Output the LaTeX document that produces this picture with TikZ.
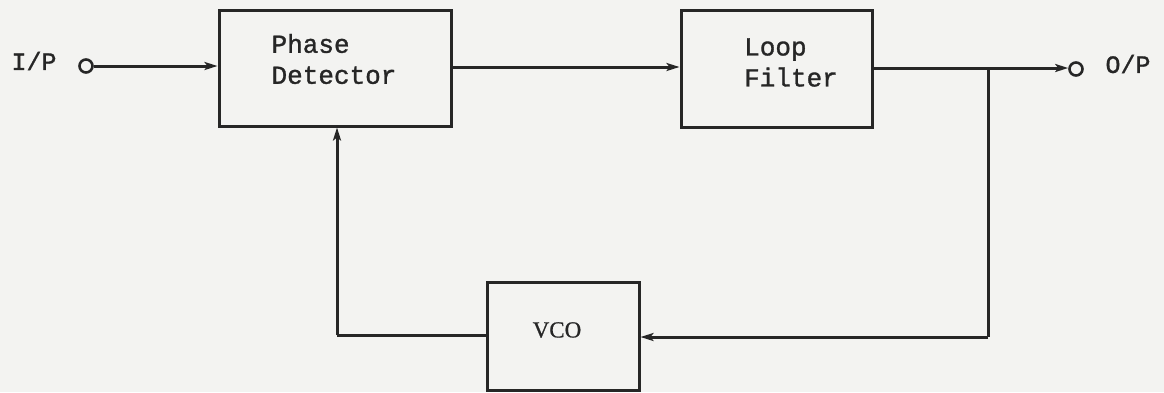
\documentclass[tikz,border=0pt]{standalone}
\usepackage{fontspec}
\newfontfamily\typew[FakeBold=1.2]{Liberation Mono}
\newfontfamily\vcofont[FakeBold=0.8]{Liberation Serif}
\usetikzlibrary{arrows.meta}
\definecolor{ink}{HTML}{262626}
\definecolor{paper}{HTML}{F3F3F1}
\tikzset{
  blk/.style={draw=ink, line width=3pt, inner sep=0pt},
  lbl/.style={text=ink, font=\typew\fontsize{26}{31}\selectfont, align=left, inner sep=0pt},
  port/.style={draw=ink, line width=2.6pt, circle, minimum size=13pt, inner sep=0pt, fill=paper},
  wire/.style={draw=ink, line width=3pt},
  arr/.style={wire, -{Stealth[length=13pt,width=8pt,inset=3pt]}}
}
\begin{document}
\begin{tikzpicture}[x=1pt,y=-1pt]
\fill[paper] (0,0) rectangle (1164,392);
\useasboundingbox (0,0) rectangle (1164,392);
% boxes
\node[blk, minimum width=232pt, minimum height=116pt] (pd) at (335,68) {};
\node[blk, minimum width=191pt, minimum height=117pt] (lf) at (776.5,68.5) {};
\node[blk, minimum width=152pt, minimum height=108pt] (vco) at (563,336) {};
% labels
\node[lbl] (pdt) at (334,59) {Phase\\Detector};
\node[lbl] (lft) at (791,62.5) {Loop\\Filter};
\node[text=ink, font=\vcofont\fontsize{23}{27}\selectfont, inner sep=0pt] (vcot) at (557,330) {VCO};
\node[lbl, font=\typew\fontsize{25}{30}\selectfont] (ipt) at (34,61) {I/P};
\node[lbl, font=\typew\fontsize{25}{30}\selectfont] (opt) at (1128,64) {O/P};
% ports
\node[port] (ip) at (86,66) {};
\node[port] (op) at (1076,69) {};
% coordinates
\coordinate (tap) at (988,68);
\coordinate (tapb) at (988,337);
\coordinate (fbl) at (337,335);
% connectors
\draw[arr] (ip.east) -- (pd.west |- ip.east);
\draw[arr] (pd.east |- 0,67) -- (lf.west |- 0,67);
\draw[arr] (lf.east |- tap) -- (op.west |- tap);
\draw[wire] (tap) -- (tapb);
\draw[arr] (tapb) -- (vco.east |- tapb);
\draw[wire] (vco.west |- fbl) -- (fbl);
\draw[arr] (fbl) -- (fbl |- pd.south);
\end{tikzpicture}
\end{document}
